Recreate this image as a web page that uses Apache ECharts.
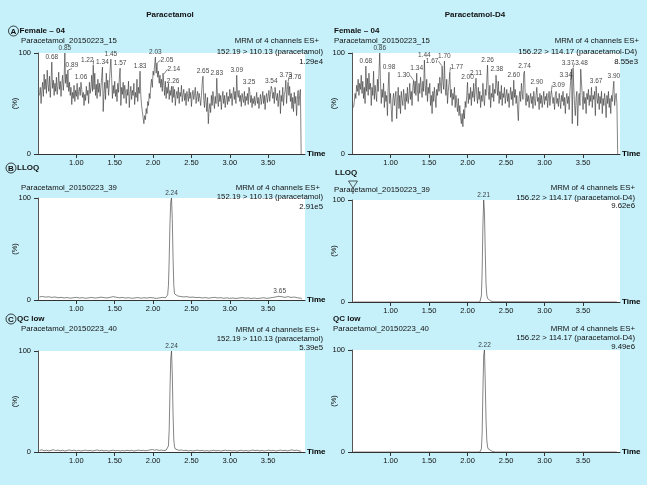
<!DOCTYPE html>
<html>
<head>
<meta charset="utf-8">
<script src="https://cdn.jsdelivr.net/npm/echarts@6/dist/echarts.min.js"></script>
<style>
  html, body { margin: 0; padding: 0; background: #c6f1fa; }
  #main { width: 647px; height: 485px; }
</style>
</head>
<body>
<div id="main"></div>
<script>
var FONT = "'Liberation Sans', Arial, sans-serif"

// x ticks shared by all six chromatograms
var xTicks = [1.0, 1.5, 2.0, 2.5, 3.0, 3.5]

// A: blank (Female - 04), sampled every 0.01 min from 0.52
var noiseStart = 0.52
var noiseStep = 0.01
var leftNoise = [
  58, 66, 50, 63, 71, 57, 79, 64, 74, 60,
  83, 69, 62, 77, 56, 71, 80, 65, 73, 58,
  70, 62, 76, 59, 68, 81, 64, 72, 57, 69,
  78, 63, 74, 88, 70, 79, 66, 76, 62, 71,
  58, 66, 49, 61, 55, 68, 52, 63, 57, 70,
  54, 62, 66, 58, 52, 64, 56, 61, 48, 59,
  53, 67, 58, 63, 50, 71, 60, 66, 78, 62,
  72, 64, 80, 58, 69, 55, 74, 61, 70, 57,
  66, 76, 62, 42, 60, 71, 54, 80, 65, 73,
  58, 70, 84, 62, 75, 55, 68, 60, 72, 57,
  64, 52, 70, 61, 75, 58, 48, 66, 59, 71,
  55, 68, 62, 50, 64, 58, 72, 46, 60, 67,
  54, 63, 58, 70, 49, 61, 56, 74, 52, 66,
  60, 70, 58, 48, 42, 36, 30, 38, 34, 45,
  40, 52, 48, 60, 55, 68, 74, 66, 82, 78,
  88, 74, 80, 92, 76, 82, 70, 78, 66, 74,
  62, 80, 68, 58, 72, 55, 66, 60, 70, 54,
  63, 58, 67, 51, 60, 56, 64, 48, 58, 62,
  55, 66, 50, 61, 57, 68, 52, 59, 64, 53,
  60, 48, 62, 57, 52, 65, 55, 61, 47, 58,
  63, 54, 59, 66, 50, 57, 62, 52, 60, 55,
  48, 58, 70, 62, 54, 46, 60, 52, 42, 56,
  30, 44, 50, 41, 58, 48, 62, 53, 45, 57,
  50, 66, 55, 47, 60, 52, 58, 44, 56, 62,
  50, 58, 46, 54, 61, 49, 57, 52, 64, 55,
  60, 48, 58, 66, 54, 62, 50, 74, 60, 56,
  63, 52, 58, 47, 60, 55, 51, 62, 48, 57,
  53, 60, 49, 56, 62, 51, 58, 46, 55, 50,
  57, 48, 54, 61, 50, 56, 45, 53, 59, 49,
  55, 62, 50, 58, 44, 56, 60, 51, 57, 63,
  52, 59, 48, 64, 55, 61, 50, 66, 58, 53,
  60, 47, 56, 63, 40, 58, 52, 66, 48, 59,
  62, 55, 50, 64, 38, 58, 67, 52, 60, 45,
  56, 42, 61, 50, 57, 38, 54, 63, 48, 58,
  64, 0
]
var leftPeaks = [
  [0.68, 91], [0.85, 100], [0.89, 83], [1.06, 71], [1.22, 88], [1.34, 86],
  [1.45, 94], [1.57, 85], [1.83, 82], [2.03, 96], [2.05, 90], [2.14, 79],
  [2.26, 67], [2.65, 77], [2.83, 75], [3.09, 78], [3.25, 66], [3.54, 67],
  [3.73, 73], [3.76, 71]
]

var rightNoise = [
  46, 52, 60, 55, 68, 62, 74, 58, 70, 64,
  78, 60, 72, 55, 66, 50, 87, 62, 75, 58,
  80, 64, 70, 48, 66, 58, 82, 54, 68, 60,
  52, 74, 62, 80, 60, 72, 50, 64, 56, 70,
  46, 62, 52, 58, 38, 66, 80, 50, 60, 44,
  32, 54, 60, 48, 56, 62, 35, 52, 66, 45,
  58, 40, 62, 54, 48, 64, 56, 44, 60, 52,
  66, 50, 58, 70, 54, 62, 48, 66, 56, 60,
  72, 58, 78, 64, 52, 70, 60, 76, 66, 56,
  72, 62, 90, 68, 58, 74, 52, 66, 60, 70,
  48, 58, 40, 62, 52, 66, 56, 46, 64, 58,
  70, 62, 76, 68, 60, 84, 72, 64, 90, 66,
  58, 74, 50, 62, 70, 80, 56, 64, 48, 60,
  54, 66, 46, 58, 50, 42, 55, 38, 48, 36,
  30, 40, 27, 44, 35, 52, 46, 58, 70, 50,
  60, 54, 66, 48, 62, 56, 70, 52, 64, 74,
  58, 50, 66, 54, 62, 46, 58, 52, 70, 56,
  48, 64, 58, 72, 86, 62, 54, 68, 46, 60,
  56, 70, 52, 64, 60, 78, 66, 58, 72, 50,
  62, 54, 68, 48, 60, 56, 66, 50, 58, 64,
  52, 60, 46, 58, 66, 54, 62, 48, 72, 56,
  64, 50, 58, 44, 33, 56, 62, 52, 70, 60,
  54, 80, 62, 56, 48, 60, 52, 58, 46, 55,
  60, 50, 57, 45, 62, 54, 48, 58, 65, 52,
  56, 44, 60, 50, 58, 46, 54, 62, 49, 57,
  53, 60, 46, 56, 62, 48, 58, 52, 64, 50,
  56, 44, 58, 62, 50, 55, 47, 60, 53, 45,
  58, 52, 62, 48, 56, 40, 54, 60, 50, 57,
  44, 62, 70, 84, 30, 58, 66, 48, 38, 56,
  62, 28, 54, 60, 48, 84, 52, 58, 44, 62,
  50, 56, 40, 60, 54, 64, 48, 58, 52, 66,
  46, 58, 54, 62, 38, 66, 56, 50, 60, 44,
  57, 50, 62, 40, 55, 48, 60, 52, 36, 58,
  50, 62, 46, 55, 40, 58, 52, 64, 72, 48,
  56, 60, 50, 0
]
var rightPeaks = [
  [0.68, 87], [0.86, 100], [0.98, 81], [1.30, 73], [1.34, 80], [1.44, 93],
  [1.67, 87], [1.70, 92], [1.77, 81], [2.00, 71], [2.11, 75], [2.26, 88],
  [2.38, 79], [2.60, 73], [2.74, 82], [2.90, 66], [3.09, 63], [3.34, 73],
  [3.37, 85], [3.48, 85], [3.67, 67], [3.90, 72]
]

// B: LLOQ  [time, %]
var bLeft = [
  [0.52, 3], [0.56, 3.5], [0.60, 2.8], [0.64, 3.2], [0.68, 2.5], [0.72, 3], [0.76, 2.2],
  [0.80, 2.6], [0.84, 2], [0.88, 2.4], [0.92, 1.8], [0.96, 2.2], [1.00, 2.6], [1.04, 2],
  [1.08, 2.3], [1.12, 1.7], [1.16, 2.1], [1.20, 2.5], [1.24, 1.9], [1.28, 2.2], [1.32, 2.8],
  [1.36, 2.3], [1.40, 2], [1.44, 2.6], [1.48, 3.3], [1.52, 2.7], [1.56, 2.2], [1.60, 2.5],
  [1.64, 1.9], [1.68, 2.3], [1.72, 1.7], [1.76, 2], [1.80, 2.4], [1.84, 1.8], [1.88, 2.2],
  [1.92, 1.9], [1.96, 2.4], [2.00, 2.1], [2.04, 1.6], [2.08, 2], [2.12, 2.6], [2.16, 2.2],
  [2.18, 3], [2.19, 5], [2.20, 14], [2.21, 40], [2.22, 75], [2.23, 96], [2.24, 100],
  [2.25, 80], [2.26, 42], [2.27, 14], [2.28, 6], [2.29, 4.5], [2.32, 4], [2.36, 3.4],
  [2.40, 3], [2.44, 3.3], [2.48, 2.6], [2.52, 2.9], [2.56, 2.3], [2.60, 2.6], [2.64, 2],
  [2.68, 2.4], [2.72, 1.8], [2.76, 2.2], [2.80, 2.6], [2.84, 2], [2.88, 2.3], [2.92, 1.7],
  [2.96, 2.1], [3.00, 1.6], [3.04, 2], [3.08, 1.5], [3.12, 1.9], [3.16, 2.3], [3.20, 1.7],
  [3.24, 2], [3.28, 1.5], [3.32, 1.9], [3.36, 1.4], [3.40, 1.8], [3.44, 2.2], [3.48, 1.6],
  [3.52, 2], [3.56, 2.5], [3.60, 3], [3.63, 3.6], [3.65, 4.2], [3.68, 3.2], [3.72, 2.6],
  [3.76, 3.3], [3.80, 2.5], [3.84, 2.9], [3.88, 2.2], [3.92, 1.8], [3.94, 1]
]
var bLeftPeaks = [[2.24, 100], [3.65, 4.2]]

var bRight = [
  [0.52, 0], [2.16, 0], [2.17, 1], [2.18, 6], [2.19, 30], [2.20, 75], [2.21, 100],
  [2.22, 88], [2.23, 50], [2.24, 18], [2.25, 7], [2.26, 3.5], [2.28, 2], [2.30, 1],
  [2.34, 0.3], [3.94, 0]
]
var bRightPeaks = [[2.21, 100]]

// C: QC low
var cLeft = [
  [0.52, 1.5], [0.55, 2.2], [0.58, 1.2], [0.61, 1.8], [0.64, 1.1], [0.67, 1.6], [0.70, 2.3],
  [0.73, 1.4], [0.76, 1.9], [0.79, 1.2], [0.82, 1.7], [0.85, 1.0], [0.88, 1.5], [0.91, 2.0],
  [0.94, 1.3], [0.97, 1.8], [1.00, 1.1], [1.03, 1.6], [1.06, 1.0], [1.09, 1.4], [1.12, 1.9],
  [1.15, 1.2], [1.18, 1.6], [1.21, 1.0], [1.24, 1.5], [1.27, 2.0], [1.30, 1.3], [1.33, 1.7],
  [1.36, 1.1], [1.39, 1.5], [1.42, 0.9], [1.45, 1.4], [1.48, 1.8], [1.51, 1.2], [1.54, 1.6],
  [1.57, 1.0], [1.60, 1.5], [1.63, 1.1], [1.66, 1.7], [1.69, 1.2], [1.72, 1.6], [1.75, 1.0],
  [1.78, 1.4], [1.81, 1.9], [1.84, 1.3], [1.87, 1.7], [1.90, 1.2], [1.93, 1.6], [1.96, 2.0],
  [1.99, 2.4], [2.02, 1.8], [2.05, 2.2], [2.08, 1.6], [2.11, 1.9], [2.14, 1.4], [2.17, 1.8],
  [2.19, 2.5], [2.20, 6], [2.21, 22], [2.22, 60], [2.23, 92], [2.24, 100], [2.25, 78],
  [2.26, 38], [2.27, 12], [2.28, 5], [2.29, 3], [2.31, 2.2], [2.34, 1.6], [2.37, 2.0],
  [2.40, 1.3], [2.43, 1.7], [2.46, 1.1], [2.49, 1.5], [2.52, 1.0], [2.55, 1.4], [2.58, 1.8],
  [2.61, 1.2], [2.64, 1.6], [2.67, 1.0], [2.70, 1.4], [2.73, 0.9], [2.76, 1.3], [2.79, 1.7],
  [2.82, 1.1], [2.85, 1.5], [2.88, 1.0], [2.91, 1.4], [2.94, 1.8], [2.97, 1.2], [3.00, 1.6],
  [3.03, 1.0], [3.06, 1.4], [3.09, 0.9], [3.12, 1.3], [3.15, 1.7], [3.18, 1.1], [3.21, 1.5],
  [3.24, 1.0], [3.27, 1.4], [3.30, 1.9], [3.33, 1.3], [3.36, 1.7], [3.39, 1.1], [3.42, 1.5],
  [3.45, 1.0], [3.48, 1.4], [3.51, 1.8], [3.54, 1.2], [3.57, 1.6], [3.60, 1.0], [3.63, 1.4],
  [3.66, 1.9], [3.69, 1.3], [3.72, 1.7], [3.75, 1.1], [3.78, 1.6], [3.81, 2.1], [3.84, 1.4],
  [3.87, 1.8], [3.90, 1.2], [3.93, 0.8]
]
var cLeftPeaks = [[2.24, 100]]

var cRight = [
  [0.52, 0], [2.16, 0], [2.17, 0.5], [2.18, 3], [2.19, 18], [2.20, 60], [2.21, 95],
  [2.22, 100], [2.23, 70], [2.24, 32], [2.25, 12], [2.26, 5], [2.27, 3], [2.29, 1.5],
  [2.32, 0.6], [2.36, 0], [3.94, 0]
]
var cRightPeaks = [[2.22, 100]]

// label nudges [dx, dy] for crowded peak labels (drawn with a guide line)
var leftNudge = { '1.22': [-6, 0], '2.05': [10, 2], '2.14': [10, 0], '3.76': [7, 0], '0.89': [4, 0] }
var rightNudge = { '1.30': [-10, 0], '1.67': [-10, 0], '1.77': [7, 0], '3.09': [7, 0], '3.34': [-5, 0], '3.37': [-5, 0] }

function fromNoise(vals) {
  return vals.map(function (v, i) { return [+(noiseStart + i * noiseStep).toFixed(2), v] })
}
function build(pairs, peaks) {
  var line = pairs.map(function (p) { return [p[0], p[1]] })
  peaks.forEach(function (pk) {
    var hit = line.find(function (p) { return Math.abs(p[0] - pk[0]) < 0.001 })
    if (hit) hit[1] = pk[1]
    else line.push([pk[0], pk[1]])
  })
  line.sort(function (a, b) { return a[0] - b[0] })
  return line
}

var panels = [
  { grid: { left: 38, top: 53, width: 267, height: 101 }, line: build(fromNoise(leftNoise), leftPeaks), peaks: leftPeaks, nudge: leftNudge, gap: 19 },
  { grid: { left: 352, top: 53, width: 268, height: 101 }, line: build(fromNoise(rightNoise), rightPeaks), peaks: rightPeaks, nudge: rightNudge, gap: 14 },
  { grid: { left: 38, top: 198, width: 267, height: 102 }, line: build(bLeft, bLeftPeaks), peaks: bLeftPeaks, nudge: {}, gap: 19 },
  { grid: { left: 352, top: 200, width: 268, height: 102 }, line: build(bRight, bRightPeaks), peaks: bRightPeaks, nudge: {}, gap: 14 },
  { grid: { left: 38, top: 351, width: 267, height: 101 }, line: build(cLeft, cLeftPeaks), peaks: cLeftPeaks, nudge: {}, gap: 19 },
  { grid: { left: 352, top: 350, width: 268, height: 102 }, line: build(cRight, cRightPeaks), peaks: cRightPeaks, nudge: {}, gap: 14 }
]

var grids = [], xAxes = [], yAxes = [], series = []
panels.forEach(function (p, i) {
  grids.push(Object.assign({ show: true, backgroundColor: '#ffffff', borderWidth: 0, containLabel: false, outerBoundsMode: 'none' }, p.grid))
  xAxes.push({
    type: 'value', gridIndex: i, min: 0.5, max: 3.98, interval: 0.5,
    name: 'Time', nameLocation: 'end', nameGap: 2, nameMoveOverlap: false,
    nameTextStyle: { fontFamily: FONT, fontSize: 8, fontWeight: 'bold', color: '#000' },
    axisLine: { show: true, onZero: false, lineStyle: { color: '#333', width: 1 } },
    axisTick: { show: true, inside: false, length: 4, customValues: xTicks, lineStyle: { color: '#333' } },
    axisLabel: { customValues: xTicks, margin: 5, fontFamily: FONT, fontSize: 7.5, color: '#111',
      formatter: function (v) { return v.toFixed(2) } },
    splitLine: { show: false }
  })
  yAxes.push({
    type: 'value', gridIndex: i, min: 0, max: 100, interval: 100,
    name: '(%)', nameLocation: 'middle', nameRotate: 90, nameGap: p.gap, nameMoveOverlap: false,
    nameTextStyle: { fontFamily: FONT, fontSize: 7.5, color: '#111' },
    axisLine: { show: true, lineStyle: { color: '#555', width: 1 } },
    axisTick: { show: true, inside: false, length: 4, lineStyle: { color: '#333' } },
    axisLabel: { margin: 7, fontFamily: FONT, fontSize: 7.5, color: '#111' },
    splitLine: { show: false }
  })
  series.push({
    type: 'line', xAxisIndex: i, yAxisIndex: i, data: p.line,
    showSymbol: false, symbol: 'none', silent: true,
    lineStyle: { color: '#333', width: 0.6 }
  })
  var nudge = p.nudge
  series.push({
    type: 'scatter', xAxisIndex: i, yAxisIndex: i, z: 5, silent: true,
    symbol: 'circle', symbolSize: 1, itemStyle: { color: 'rgba(0,0,0,0)' },
    data: p.peaks.map(function (pk) {
      return nudge[pk[0].toFixed(2)] ? { value: pk, labelLine: { show: true } } : { value: pk }
    }),
    label: { show: true, position: 'top', distance: 1, fontFamily: FONT, fontSize: 6.5, color: '#111',
      formatter: function (q) { return q.value[0].toFixed(2) } },
    labelLine: { show: false, lineStyle: { color: '#333', width: 0.6 } },
    labelLayout: function (q) {
      var n = nudge[q.text]
      return n ? { dx: n[0], dy: n[1] } : {}
    }
  })
})

function txt(x, y, s, align, bold) {
  return {
    type: 'text', x: x, y: y, silent: true,
    style: { text: s, fill: '#111', font: (bold ? 'bold 8px ' : '7.8px ') + FONT,
      align: align || 'left', textAlign: align || 'left', verticalAlign: 'middle', textVerticalAlign: 'middle' }
  }
}
function badge(cx, cy, letter) {
  return [
    { type: 'circle', shape: { cx: cx, cy: cy, r: 5 }, silent: true, style: { fill: 'none', stroke: '#111', lineWidth: 0.8 } },
    txt(cx, cy + 0.5, letter, 'center', true)
  ]
}

var graphics = [
  txt(170, 15, 'Paracetamol', 'center', true),
  txt(475, 15, 'Paracetamol-D4', 'center', true),

  txt(19.5, 31, 'Female – 04', 'left', true),
  txt(21, 41, 'Paracetamol_20150223_15'),
  txt(319, 41, 'MRM of 4 channels ES+', 'right'),
  txt(323, 52, '152.19 > 110.13 (paracetamol)', 'right'),
  txt(323, 62, '1.29e4', 'right'),
  txt(334, 31, 'Female – 04', 'left', true),
  txt(334, 41, 'Paracetamol_20150223_15'),
  txt(639, 41, 'MRM of 4 channels ES+', 'right'),
  txt(637, 52, '156.22 > 114.17 (paracetamol-D4)', 'right'),
  txt(638, 62, '8.55e3', 'right'),

  txt(17, 168, 'LLOQ', 'left', true),
  txt(21, 188, 'Paracetamol_20150223_39'),
  txt(320, 188, 'MRM of 4 channels ES+', 'right'),
  txt(323, 197, '152.19 > 110.13 (paracetamol)', 'right'),
  txt(323, 207, '2.91e5', 'right'),
  txt(335, 173, 'LLOQ', 'left', true),
  txt(334, 190, 'Paracetamol_20150223_39'),
  txt(635, 188, 'MRM of 4 channels ES+', 'right'),
  txt(635, 198, '156.22 > 114.17 (paracetamol-D4)', 'right'),
  txt(635, 206, '9.62e6', 'right'),
  { type: 'polygon', silent: true, shape: { points: [[348.5, 181], [357.5, 181], [353, 188]] }, style: { fill: 'none', stroke: '#333', lineWidth: 0.8 } },
  { type: 'line', silent: true, shape: { x1: 353, y1: 188, x2: 353, y2: 194 }, style: { stroke: '#333', lineWidth: 0.8 } },

  txt(17, 319, 'QC low', 'left', true),
  txt(21, 329, 'Paracetamol_20150223_40'),
  txt(320, 330, 'MRM of 4 channels ES+', 'right'),
  txt(323, 339, '152.19 > 110.13 (paracetamol)', 'right'),
  txt(323, 348, '5.39e5', 'right'),
  txt(333, 319, 'QC low', 'left', true),
  txt(333, 329, 'Paracetamol_20150223_40'),
  txt(635, 329, 'MRM of 4 channels ES+', 'right'),
  txt(635, 338, '156.22 > 114.17 (paracetamol-D4)', 'right'),
  txt(635, 347, '9.49e6', 'right')
].concat(badge(13.5, 31, 'A'), badge(11, 168, 'B'), badge(11, 319, 'C'))

var chart = echarts.init(document.getElementById('main'))
chart.setOption({
  backgroundColor: '#c6f1fa',
  animation: false,
  grid: grids,
  xAxis: xAxes,
  yAxis: yAxes,
  series: series,
  graphic: graphics
})
window.addEventListener('resize', function () { chart.resize() })
</script>
</body>
</html>
